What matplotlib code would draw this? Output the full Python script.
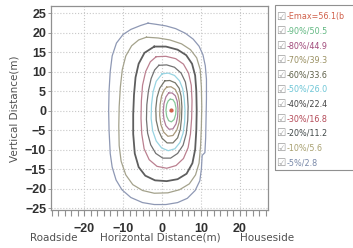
import matplotlib
matplotlib.use('Agg')
import matplotlib.pyplot as plt
from matplotlib.ticker import MultipleLocator, AutoMinorLocator
from matplotlib.patches import Rectangle

# legend entries (label, colour)
labels = ['-Emax=56.1(b', '-90%/50.5', '-80%/44.9', '-70%/39.3', '-60%/33.6',
          '-50%/26.0', '-40%/22.4', '-30%/16.8', '-20%/11.2', '-10%/5.6', '-5%/2.8']
text_colors = ['#d0604a', '#62b882', '#a04a7a', '#9a9062', '#5e6048',
               '#6ec6d6', '#444444', '#b44a58', '#404848', '#a8a070', '#7888a8']
line_colors = ['#d0604a', '#86c79a', '#ad7a9a', '#a8997a', '#76766a',
               '#98d4e2', '#727272', '#bb8090', '#5e5e5e', '#a4a28c', '#8e98b4']

# Emax location
emax_x = [2.3]
emax_y = [0.2]

# contour lines (x, y in metres), inner -> outer
c90 = [(2.1, 2.9), (2.8, 2.8), (3.3, 2.0), (3.6, 0.6), (3.5, -1.0), (3.1, -2.3),
       (2.4, -2.9), (1.7, -2.6), (1.2, -1.5), (1.0, 0.0), (1.2, 1.6), (1.6, 2.5),
       (2.1, 2.9)]
c80 = [(1.7, 4.5), (2.6, 4.5), (3.4, 3.8), (3.9, 2.4), (4.1, 0.5), (4.0, -1.6),
       (3.6, -3.4), (2.8, -4.7), (1.8, -4.8), (1.0, -3.9), (0.5, -2.3), (0.3, -0.3),
       (0.5, 1.8), (1.0, 3.5), (1.7, 4.5)]
c70 = [(1.2, 6.0), (2.3, 6.1), (3.4, 5.4), (4.1, 4.0), (4.5, 2.0), (4.6, -0.5),
       (4.4, -3.0), (3.8, -5.0), (2.8, -6.4), (1.5, -6.6), (0.4, -5.5), (-0.3, -3.6),
       (-0.6, -1.2), (-0.5, 1.5), (-0.1, 3.8), (0.5, 5.2), (1.2, 6.0)]
c60 = [(0.7, 7.6), (2.0, 7.7), (3.4, 7.1), (4.4, 5.7), (4.9, 3.7), (5.1, 1.0),
       (5.0, -2.0), (4.7, -4.8), (4.0, -7.0), (2.8, -8.3), (1.3, -8.3), (0.0, -7.1),
       (-0.9, -5.1), (-1.5, -2.5), (-1.6, 0.5), (-1.3, 3.3), (-0.6, 5.7), (0.7, 7.6)]
c50 = [(0.0, 9.4), (1.6, 9.6), (3.2, 9.0), (4.5, 7.6), (5.3, 5.6), (5.7, 3.0),
       (5.9, 0.0), (5.8, -3.0), (5.4, -5.8), (4.6, -8.2), (3.3, -9.8), (1.6, -10.3),
       (-0.1, -9.6), (-1.5, -7.8), (-2.4, -5.2), (-2.8, -2.0), (-2.7, 1.5),
       (-2.3, 4.8), (-1.5, 7.5), (0.0, 9.4)]
c40 = [(-0.8, 11.6), (1.2, 11.7), (3.2, 11.1), (4.9, 9.6), (6.0, 7.3), (6.5, 4.3),
       (6.7, 1.0), (6.6, -2.5), (6.2, -6.0), (5.4, -8.9), (4.0, -11.0), (2.2, -12.2),
       (0.2, -12.2), (-1.6, -11.0), (-2.9, -8.8), (-3.7, -5.8), (-4.0, -2.3),
       (-3.9, 1.5), (-3.5, 5.0), (-2.8, 8.2), (-1.9, 10.4), (-0.8, 11.6)]
c30 = [(-1.5, 13.8), (1.0, 13.9), (3.5, 13.3), (5.5, 11.9), (6.8, 9.6), (7.5, 6.5),
       (7.7, 2.5), (7.6, -2.0), (7.3, -6.0), (6.7, -9.5), (5.5, -12.3), (3.6, -14.1),
       (1.2, -14.8), (-1.3, -14.3), (-3.3, -12.6), (-4.6, -9.8), (-5.2, -6.0),
       (-5.4, -2.0), (-5.3, 2.5), (-5.0, 6.5), (-4.2, 10.0), (-3.0, 12.5),
       (-1.5, 13.8)]
c20 = [(-2.0, 16.4), (1.0, 16.4), (4.0, 15.6), (6.2, 14.2), (7.7, 12.0), (8.5, 9.0),
       (8.8, 5.0), (8.9, 0.0), (8.8, -5.0), (8.5, -10.0), (7.8, -13.5), (6.3, -16.2),
       (4.0, -17.6), (1.2, -18.1), (-1.8, -17.9), (-4.3, -16.7), (-6.0, -14.5),
       (-7.0, -11.0), (-7.4, -6.0), (-7.4, -1.0), (-7.2, 4.0), (-6.8, 8.5),
       (-6.0, 12.0), (-4.5, 14.8), (-2.0, 16.4)]
c10 = [(-4.0, 18.8), (-1.0, 18.6), (2.0, 18.1), (5.0, 17.1), (7.3, 15.6), (8.9, 13.5),
       (9.8, 10.5), (10.1, 6.0), (10.2, 1.0), (10.1, -4.0), (9.9, -9.0), (9.5, -13.5),
       (8.6, -16.5), (7.0, -18.8), (4.5, -20.3), (1.5, -21.1), (-2.0, -21.2),
       (-5.0, -20.5), (-7.5, -19.0), (-9.3, -16.5), (-10.5, -13.0), (-11.0, -9.0),
       (-11.1, -4.0), (-11.0, 1.0), (-10.7, 6.0), (-10.2, 10.5), (-9.3, 14.0),
       (-7.8, 16.6), (-6.0, 18.1), (-4.0, 18.8)]
c5 = [(-3.6, 22.4), (-1.5, 22.1), (1.0, 21.7), (3.5, 21.0), (6.0, 19.8), (8.0, 18.3),
      (9.5, 16.5), (10.5, 14.3), (11.1, 11.5), (11.4, 8.0), (11.4, 3.0), (11.3, -2.0),
      (11.2, -7.0), (11.0, -10.8), (10.3, -11.5), (10.1, -15.0), (9.7, -18.0),
      (8.5, -20.5), (6.5, -22.5), (4.0, -23.6), (1.0, -24.1), (-2.0, -24.1),
      (-5.0, -23.6), (-8.0, -22.3), (-10.3, -20.3), (-11.8, -17.8), (-12.8, -14.5),
      (-13.3, -11.0), (-13.6, -5.0), (-13.7, 0.0), (-13.6, 5.0), (-13.3, 10.0),
      (-12.8, 14.0), (-11.7, 17.3), (-10.0, 19.5), (-8.0, 20.8), (-5.5, 21.8),
      (-3.6, 22.4)]
contours = [c90, c80, c70, c60, c50, c40, c30, c20, c10, c5]

fig = plt.figure(figsize=(3.53, 2.48), dpi=100)
ax = fig.add_axes([51/353, 1 - 210/248, 217/353, 204/248])

for i, c in enumerate(contours):
    xs = [p[0] for p in c]
    ys = [p[1] for p in c]
    lw = 1.3 if i == 7 else 0.9
    ax.plot(xs, ys, color=line_colors[i + 1], lw=lw, solid_joinstyle='round')
ax.scatter(emax_x, emax_y, s=4, color=line_colors[0], zorder=5)

ax.set_xlim(-28.5, 27.2)
ax.set_ylim(-25.5, 26.8)
ax.xaxis.set_major_locator(MultipleLocator(10))
ax.xaxis.set_minor_locator(AutoMinorLocator(6))
ax.yaxis.set_major_locator(MultipleLocator(5))
ax.grid(True, which='major', color='#c8c8c8', linestyle=':', lw=0.8)
for s in ax.spines.values():
    s.set_color('#909090')
    s.set_linewidth(0.9)
ax.tick_params(axis='x', which='both', direction='out', color='#909090', length=4,
               width=0.8, pad=5, labelsize=9)
ax.tick_params(axis='y', direction='out', color='#909090', length=2, width=0.6,
               pad=1.5, labelsize=9)
for lab in ax.get_xticklabels() + ax.get_yticklabels():
    lab.set_family('Liberation Sans')
    lab.set_fontweight('bold')
    lab.set_color('#303030')

# axis titles
fig.text(15/353, 1 - 109/248, 'Vertical Distance(m)', rotation=90, ha='center',
         va='center', fontsize=7.5, color='#505050')
fig.text(54/353, 1 - 238/248, 'Roadside', ha='center', va='center', fontsize=7.5,
         color='#505050')
fig.text(160/353, 1 - 238/248, 'Horizontal Distance(m)', ha='center', va='center',
         fontsize=7.5, color='#505050')
fig.text(240/353, 1 - 238/248, 'Houseside', ha='left', va='center', fontsize=7.5,
         color='#505050')

# legend box (runs off the right edge)
fig.patches.append(Rectangle((275/353, 1 - 170/248), 90/353, 165/248,
                             transform=fig.transFigure, fill=False,
                             edgecolor='#909090', lw=0.8))
for i, (lab, col) in enumerate(zip(labels, text_colors)):
    y = 1 - (16.5 + 14.6 * i) / 248
    fig.text(276.5/353, y, '\u2611', ha='left', va='center', fontsize=7.5,
             color='#9a9a9a')
    fig.text(287/353, y, lab, ha='left', va='center', fontsize=5.8, color=col)

fig.savefig('out.png', dpi=100)
